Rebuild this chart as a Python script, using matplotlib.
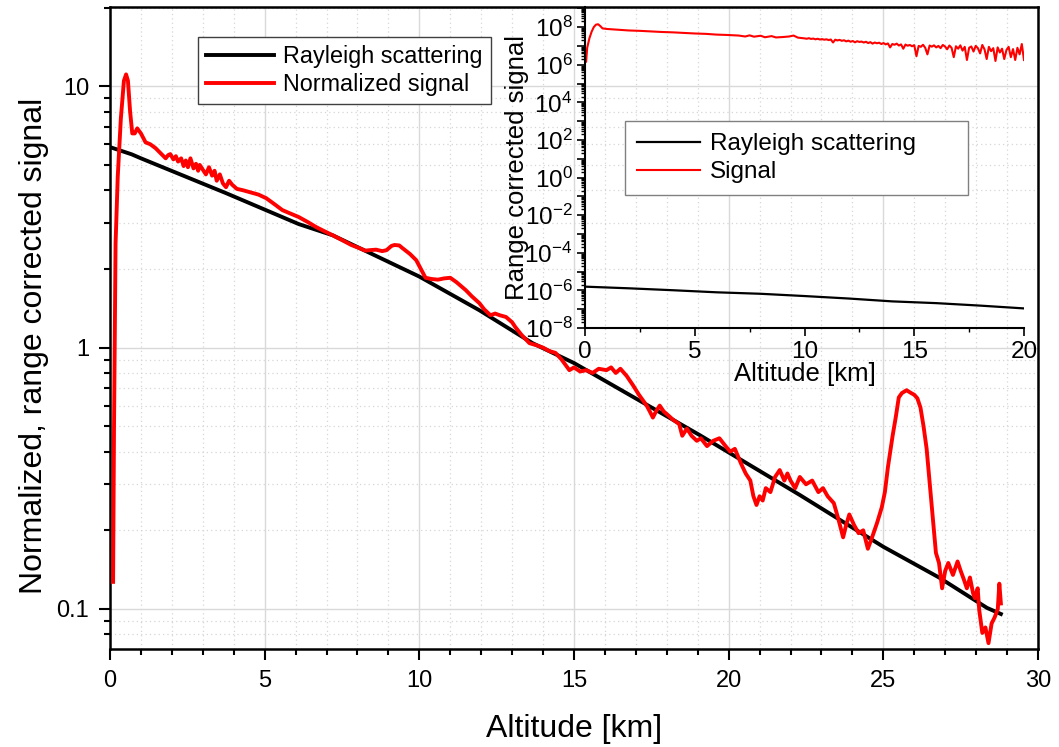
import numpy as np
import matplotlib; matplotlib.use("Agg")
import matplotlib.pyplot as plt
from matplotlib.ticker import LogLocator, FuncFormatter, MultipleLocator, NullFormatter

plt.rcParams['font.family'] = ['Liberation Sans', 'DejaVu Sans']
plt.rcParams['mathtext.fontset'] = 'custom'
plt.rcParams['mathtext.rm'] = 'Liberation Sans'
plt.rcParams['mathtext.it'] = 'Liberation Sans:italic'

# --- main panel: Rayleigh profile (normalized) ---
ray_alt = [0.0, 0.7, 1.0, 3.75, 6.1, 7.2, 10.0, 11.94, 13.66, 15.0, 19.06,
           22.3, 25.0, 26.8, 28.35, 28.8]
ray_val = [5.85, 5.49, 5.3, 3.90, 2.97, 2.69, 1.87, 1.39, 1.04, 0.873, 0.463,
           0.273, 0.173, 0.132, 0.101, 0.0957]

# --- main panel: normalized lidar signal ---
sig_alt = [0.10, 0.13, 0.18, 0.25, 0.35, 0.45, 0.52, 0.58, 0.65, 0.72, 0.80, 0.88,
           1.0, 1.15, 1.3, 1.47, 1.6, 1.7, 1.8, 1.88, 1.95, 2.05, 2.13, 2.2, 2.3,
           2.38, 2.45, 2.52, 2.6, 2.7, 2.78, 2.85, 2.9, 3.0, 3.1, 3.2, 3.3, 3.38,
           3.45, 3.55, 3.65, 3.75, 3.85, 3.95, 4.1, 4.3, 4.5, 4.8,
           5.05, 5.3, 5.57, 5.8, 6.1, 6.4, 6.67, 6.9, 7.2, 7.5, 7.8, 8.07, 8.25,
           8.4, 8.6, 8.8, 8.94, 9.1, 9.2, 9.35, 9.46, 9.7, 9.9, 10.05, 10.2, 10.4,
           10.6, 10.8, 11.0, 11.2, 11.5, 11.7, 11.94, 12.1, 12.3, 12.45, 12.6, 12.8,
           13.0, 13.1, 13.3, 13.56, 13.8, 14.0, 14.2, 14.4, 14.6, 14.85, 15.0, 15.2,
           15.4, 15.6, 15.8, 16.05, 16.2, 16.35, 16.5, 16.7, 16.9, 17.1, 17.35,
           17.45, 17.55, 17.65, 17.77, 17.9, 18.05, 18.2, 18.4, 18.5, 18.65, 18.8,
           18.97, 19.1, 19.3, 19.5, 19.7, 19.9, 20.05, 20.2, 20.4, 20.55, 20.7,
           20.8, 20.9, 21.0, 21.1, 21.2, 21.35, 21.5, 21.65, 21.8, 21.9, 22.0,
           22.15, 22.3, 22.5, 22.7, 22.9, 23.05, 23.2, 23.4, 23.55, 23.7, 23.8,
           23.9, 24.05, 24.2, 24.35, 24.5, 24.65, 24.8, 24.95, 25.05, 25.15, 25.3,
           25.4, 25.5, 25.6, 25.75, 25.9, 26.0, 26.1, 26.2, 26.3, 26.4, 26.55,
           26.65, 26.7, 26.8, 26.9, 27.0, 27.1, 27.25, 27.4, 27.5, 27.6, 27.7,
           27.8, 27.9, 27.96, 28.05, 28.1, 28.2, 28.3, 28.4, 28.5, 28.6, 28.7,
           28.75, 28.8]
sig_val = [0.127, 0.5, 2.5, 4.5, 7.5, 10.5, 11.1, 10.5, 8.0, 6.6, 6.6, 6.9,
           6.6, 6.1, 6.0, 5.8, 5.6, 5.45, 5.3, 5.45, 5.5, 5.25, 5.4, 5.15, 5.3,
           4.95, 5.2, 4.9, 5.3, 4.85, 5.05, 4.75, 5.0, 4.8, 4.6, 4.9, 4.55, 4.75,
           4.35, 4.6, 4.25, 4.11, 4.35, 4.2, 4.05, 4.0, 3.94, 3.85,
           3.73, 3.55, 3.36, 3.27, 3.16, 3.02, 2.89, 2.8, 2.69, 2.58, 2.47, 2.40, 2.35,
           2.36, 2.37, 2.34, 2.36, 2.45, 2.47, 2.46, 2.40, 2.28, 2.16, 2.0, 1.85, 1.83,
           1.82, 1.84, 1.85, 1.78, 1.66, 1.57, 1.48, 1.40, 1.33, 1.35, 1.33, 1.31,
           1.25, 1.2, 1.12, 1.04, 1.02, 1.0, 0.97, 0.955, 0.9, 0.82, 0.84, 0.81,
           0.82, 0.80, 0.83, 0.82, 0.84, 0.80, 0.83, 0.78, 0.72, 0.66, 0.60,
           0.57, 0.54, 0.57, 0.60, 0.57, 0.55, 0.53, 0.51, 0.46, 0.49, 0.46,
           0.44, 0.45, 0.42, 0.44, 0.45, 0.42, 0.40, 0.41, 0.36, 0.33, 0.31,
           0.27, 0.25, 0.27, 0.26, 0.29, 0.28, 0.32, 0.34, 0.31, 0.33, 0.31,
           0.29, 0.32, 0.30, 0.31, 0.28, 0.29, 0.27, 0.254, 0.22, 0.188, 0.21,
           0.23, 0.21, 0.195, 0.2, 0.17, 0.19, 0.214, 0.245, 0.28, 0.35, 0.46,
           0.54, 0.645, 0.67, 0.687, 0.67, 0.66, 0.64, 0.59, 0.5, 0.41, 0.26,
           0.19, 0.164, 0.15, 0.12, 0.14, 0.15, 0.135, 0.152, 0.14, 0.13, 0.12,
           0.132, 0.115, 0.11, 0.12, 0.099, 0.081, 0.085, 0.074, 0.088, 0.093, 0.10,
           0.125, 0.105]

# --- inset: raw range corrected values ---
in_ray_alt = [0, 2, 4, 6, 8, 10, 12, 14, 16, 18, 20]
in_ray_val = [1.58e-6, 1.29e-6, 1.02e-6, 7.9e-7, 6.6e-7, 5.0e-7, 3.7e-7, 2.6e-7,
              2.1e-7, 1.55e-7, 1.1e-7]

in_sig_alt_low = [0.0, 0.05, 0.1, 0.2, 0.3, 0.4, 0.5, 0.6, 0.7, 0.8, 1.0, 1.5, 2.0,
                  2.5, 3.0, 3.5, 4.0, 4.5, 5.0, 5.5, 6.0, 6.5, 7.0, 7.3, 7.5, 7.7,
                  8.0, 8.2, 8.5, 8.7, 9.0, 9.3, 9.5, 9.7]
in_sig_log_low = [6.2, 6.15, 6.9, 7.4, 7.75, 8.0, 8.13, 8.15, 8.05, 7.93, 7.9, 7.86,
                  7.82, 7.80, 7.77, 7.74, 7.72, 7.69, 7.66, 7.64, 7.60, 7.58, 7.55,
                  7.50, 7.56, 7.49, 7.54, 7.46, 7.52, 7.45, 7.47, 7.50, 7.55, 7.44]
# 10.0 .. 20.0 km every 0.1 km (log10 of signal)
in_sig_log_high = [
    7.40, 7.38, 7.41, 7.37, 7.39, 7.35, 7.38, 7.34, 7.36, 7.33,
    7.35, 7.31, 7.34, 7.18, 7.33, 7.29, 7.32, 7.27, 7.30, 7.24,
    7.28, 7.22, 7.26, 7.19, 7.25, 7.21, 7.23, 7.18, 7.22, 7.15,
    7.20, 7.12, 7.18, 7.14, 7.17, 7.10, 7.15, 7.08, 7.13, 6.92,
    7.10, 7.06, 7.12, 7.02, 7.08, 6.85, 7.07, 7.01, 7.05, 6.98,
    7.04, 6.45, 7.00, 6.95, 7.06, 6.90, 6.55, 7.02, 6.96, 7.03,
    6.92, 7.00, 6.88, 7.05, 6.97, 6.82, 7.02, 6.90, 6.40, 6.98,
    6.85, 7.03, 6.75, 6.95, 6.25, 6.90, 6.97, 6.70, 7.00, 6.88,
    6.60, 7.05, 6.82, 6.30, 6.95, 6.72, 6.88, 6.20, 6.92, 6.65,
    6.85, 6.30, 6.78, 6.95, 6.40, 6.83, 6.25, 6.90, 6.55, 7.10,
    6.25]
in_sig_alt = in_sig_alt_low + [round(10 + 0.1 * i, 1) for i in range(len(in_sig_log_high))]
in_sig_val = 10.0 ** np.array(in_sig_log_low + in_sig_log_high)

W, H = 1059, 747
fig = plt.figure(figsize=(W / 100, H / 100), dpi=100)
ax = fig.add_axes([110 / W, 1 - 649 / H, 928 / W, 642 / H])

ax.plot(ray_alt, ray_val, color="black", lw=2.8, label="Rayleigh scattering", zorder=3)
ax.plot(sig_alt, sig_val, color="#ff0000", lw=2.8, label="Normalized signal", zorder=4)
ax.set_yscale("log")
ax.set_xlim(0, 30)
ax.set_ylim(0.0703, 20.1)
ax.xaxis.set_major_locator(MultipleLocator(5))
ax.xaxis.set_minor_locator(MultipleLocator(1))
ax.yaxis.set_major_locator(LogLocator(base=10))
ax.yaxis.set_minor_locator(LogLocator(base=10, subs=np.arange(2, 10)))
ax.yaxis.set_major_formatter(FuncFormatter(lambda v, p: f"{v:g}"))
ax.yaxis.set_minor_formatter(NullFormatter())
ax.tick_params(which="major", direction="out", length=8, width=1.5, labelsize=17, pad=7)
ax.tick_params(which="minor", direction="out", length=4.5, width=1.5)
for s in ax.spines.values():
    s.set_linewidth(1.8)
ax.grid(which="major", color="#d9d9d9", lw=1.0, ls="-", zorder=0)
ax.grid(which="minor", color="#d6d6d6", lw=0.9, ls=(0, (1, 2.5)), zorder=0)
ax.set_axisbelow(True)
ax.set_xlabel("Altitude [km]", fontsize=23, labelpad=16)
ax.set_ylabel("Normalized, range corrected signal", fontsize=23)
ax.yaxis.set_label_coords(-0.066, 0.472)

leg = ax.legend(loc="upper left", bbox_to_anchor=(0.095, 0.953), borderaxespad=0,
                fontsize=16.8, fancybox=False, framealpha=1, edgecolor="#404040",
                handlelength=2.9, handletextpad=0.4, borderpad=0.35, labelspacing=0.2)
leg.get_frame().set_linewidth(1.0)

# --- inset ---
ins = fig.add_axes([585 / W, 1 - 328 / H, 439 / W, 321 / H])
ins.patch.set_alpha(0)
ins.plot(in_ray_alt, in_ray_val, color="black", lw=1.6, label="Rayleigh scattering")
ins.plot(in_sig_alt, in_sig_val, color="#ff0000", lw=1.5, label="Signal")
ins.set_yscale("log")
ins.set_xlim(0, 20)
ins.set_ylim(1e-8, 1.17e9)
ins.spines["top"].set_visible(False)
ins.spines["right"].set_visible(False)
for s in ("left", "bottom"):
    ins.spines[s].set_linewidth(1.5)
ins.xaxis.set_major_locator(MultipleLocator(5))
ins.xaxis.set_minor_locator(MultipleLocator(2.5))
ins.yaxis.set_major_locator(LogLocator(base=10, numticks=40))
ins.yaxis.set_minor_locator(LogLocator(base=10, subs=np.arange(2, 10), numticks=40))


def even_pow(v, p):
    e = int(round(np.log10(v)))
    return f"$10^{{{e}}}$" if e % 2 == 0 else ""


ins.yaxis.set_major_formatter(FuncFormatter(even_pow))
ins.yaxis.set_minor_formatter(NullFormatter())
ins.tick_params(which="major", direction="out", length=6, width=1.2, labelsize=17.5, pad=3)
ins.tick_params(which="minor", direction="out", length=3, width=1.0)
ins.set_xlabel("Altitude [km]", fontsize=18.5, labelpad=0)
ins.set_ylabel("Range corrected signal", fontsize=18.5, labelpad=-3)
ileg = ins.legend(loc="upper left", bbox_to_anchor=(0.091, 0.421, 0.781, 0.224),
                  mode="expand", borderaxespad=0,
                  fontsize=17.5, fancybox=False, framealpha=1, edgecolor="#808080",
                  handlelength=2.6, handletextpad=0.4, borderpad=0.5, labelspacing=0.25)
ileg.get_frame().set_linewidth(1.0)

fig.savefig("out.png", dpi=100)
